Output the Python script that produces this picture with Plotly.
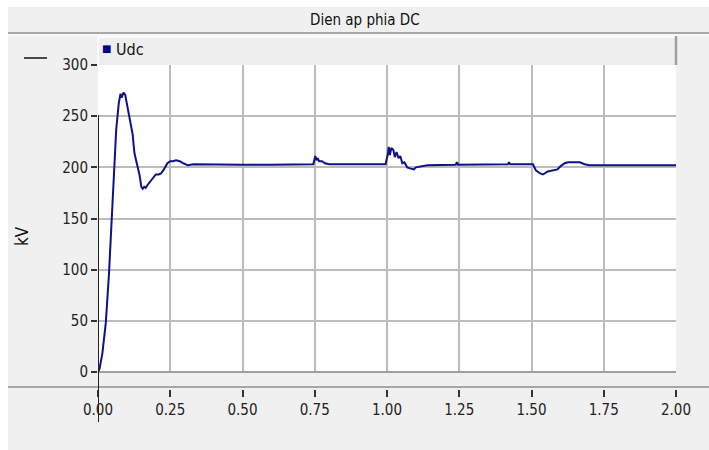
import plotly.graph_objects as go

# ---- data ----
t = [0.000, 0.005, 0.015, 0.027, 0.038, 0.047, 0.055, 0.063, 0.072, 0.078,
     0.082, 0.088, 0.094, 0.100, 0.105, 0.110, 0.115, 0.120, 0.126, 0.132,
     0.138, 0.144, 0.150, 0.155, 0.160, 0.165, 0.172, 0.180, 0.190, 0.200,
     0.210, 0.218, 0.228, 0.240, 0.250, 0.258, 0.270, 0.283, 0.295, 0.311,
     0.330, 0.400, 0.500, 0.600, 0.700, 0.745, 0.752, 0.756, 0.760, 0.765,
     0.775, 0.785, 0.800, 0.900, 0.995, 1.003, 1.006, 1.010, 1.015, 1.022,
     1.027, 1.033, 1.040, 1.046, 1.053, 1.060, 1.070, 1.080, 1.093, 1.100,
     1.120, 1.140, 1.238, 1.242, 1.246, 1.418, 1.422, 1.426, 1.505, 1.515,
     1.530, 1.540, 1.556, 1.570, 1.590, 1.600, 1.615, 1.626, 1.667, 1.684,
     1.700, 1.800, 1.900, 2.000]
udc = [0, 3, 18, 48, 96, 149, 200, 237, 263, 272,
       268, 273, 271, 262, 255, 247, 240, 232, 214, 207,
       201, 192, 181, 179, 181, 180, 183, 186, 190, 193,
       193, 194, 198, 204, 206, 206, 207, 206, 204, 202,
       203, 202.5, 202.5, 202.5, 202.5, 203, 211, 207, 209, 206,
       206, 204, 203, 203, 203, 213, 220, 212, 219, 217,
       210, 215, 209, 211, 204, 205, 200, 199, 198, 200,
       201, 202, 202.5, 205, 202.5, 203, 205, 203, 203, 197,
       194, 193, 196, 197, 198, 201, 204, 205, 205, 203,
       202, 202, 202, 202]
x_ticks = [0.0, 0.25, 0.5, 0.75, 1.0, 1.25, 1.5, 1.75, 2.0]
x_labels = ["0.00", "0.25", "0.50", "0.75", "1.00", "1.25", "1.50", "1.75", "2.00"]
y_ticks = [0, 50, 100, 150, 200, 250, 300]

TITLE = "Dien ap phia DC"
SERIES = "Udc"
YLABEL = "kV"

FONT = "Liberation Sans Narrow, Arial Narrow, DejaVu Sans Condensed, Arial, sans-serif"
W, H = 709, 450
L, R, T, B = 98, 676, 65, 389   # paper area in pixels
PLOT_BOTTOM = 372

def px(x):
    return (x - L) / (R - L)

def py(y):
    return (B - y) / (B - T)

fig = go.Figure()
fig.add_trace(go.Scatter(x=t, y=udc, mode="lines", name=SERIES,
                         line=dict(color="#10108a", width=2),
                         showlegend=False))

grid = "#bcbcbc"
fig.update_layout(
    width=W, height=H,
    margin=dict(l=L, r=W - R, t=T, b=H - B, pad=0),
    paper_bgcolor="#f0f0f0",
    plot_bgcolor="white",
    font=dict(family=FONT, size=15, color="#222"),
    xaxis=dict(range=[0, 2], tickvals=x_ticks, ticktext=x_labels,
               showgrid=True, gridcolor=grid, gridwidth=2,
               zeroline=False, showline=False,
               anchor="free", position=0,
               ticks="outside", ticklen=7, tickwidth=1.5, tickcolor="#333",
               tickfont=dict(family=FONT, size=15, color="#222")),
    yaxis=dict(range=[0, 300], tickvals=y_ticks, domain=[py(PLOT_BOTTOM), 1],
               showgrid=True, gridcolor=grid, gridwidth=2,
               zeroline=True, zerolinecolor="#a0a0a0", zerolinewidth=2,
               showline=False,
               ticks="outside", ticklen=6, tickwidth=1.5, tickcolor="#333",
               tickfont=dict(family=FONT, size=15, color="#222")),
    showlegend=False,
)

shapes = []
# white outer border (top/left)
shapes.append(dict(type="rect", xref="paper", yref="paper",
                   x0=px(0), x1=px(W), y0=py(0), y1=py(7),
                   fillcolor="white", line=dict(width=0), layer="above"))
shapes.append(dict(type="rect", xref="paper", yref="paper",
                   x0=px(0), x1=px(8), y0=py(0), y1=py(H),
                   fillcolor="white", line=dict(width=0), layer="above"))
# title separator
shapes.append(dict(type="line", xref="paper", yref="paper",
                   x0=px(8), x1=px(W), y0=py(33), y1=py(33),
                   line=dict(color="#a8a8a8", width=2)))
shapes.append(dict(type="line", xref="paper", yref="paper",
                   x0=px(8), x1=px(W), y0=py(35), y1=py(35),
                   line=dict(color="white", width=1)))
# legend bar
shapes.append(dict(type="rect", xref="paper", yref="paper",
                   x0=px(L), x1=px(R), y0=py(T), y1=py(37),
                   fillcolor="#eeeeee", line=dict(width=0)))
shapes.append(dict(type="line", xref="paper", yref="paper",
                   x0=px(L), x1=px(R), y0=py(37), y1=py(37),
                   line=dict(color="white", width=1.5)))
shapes.append(dict(type="line", xref="paper", yref="paper",
                   x0=px(L), x1=px(L), y0=py(37), y1=py(T),
                   line=dict(color="white", width=1.5)))
shapes.append(dict(type="line", xref="paper", yref="paper",
                   x0=px(R), x1=px(R), y0=py(36), y1=py(T),
                   line=dict(color="#a0a0a0", width=2.5)))
# bottom separator
shapes.append(dict(type="line", xref="paper", yref="paper",
                   x0=px(8), x1=px(W), y0=py(387), y1=py(387),
                   line=dict(color="#a8a8a8", width=2)))
# small dash marker at top-left
shapes.append(dict(type="line", xref="paper", yref="paper",
                   x0=px(24), x1=px(47), y0=py(58), y1=py(58),
                   line=dict(color="#111", width=1.5)))
# cursor line at t = 0
shapes.append(dict(type="line", xref="x", yref="paper",
                   x0=0, x1=0, y0=py(422), y1=py(115),
                   line=dict(color="#222", width=2)))
fig.update_layout(shapes=shapes)

annotations = [
    dict(text=TITLE, xref="paper", yref="paper", x=px(365), y=py(20),
         xanchor="center", yanchor="middle", showarrow=False,
         font=dict(family=FONT, size=15, color="#111")),
    dict(text="■", xref="paper", yref="paper", x=px(100), y=py(48),
         xanchor="left", yanchor="middle", showarrow=False,
         font=dict(family="DejaVu Sans", size=10, color="#000080")),
    dict(text=SERIES, xref="paper", yref="paper", x=px(114), y=py(49),
         xanchor="left", yanchor="middle", showarrow=False,
         font=dict(family=FONT, size=16, color="#111")),
    dict(text=YLABEL, xref="paper", yref="paper", x=px(22), y=py(236),
         xanchor="center", yanchor="middle", showarrow=False, textangle=-90,
         font=dict(family=FONT, size=17, color="#111")),
]
fig.update_layout(annotations=annotations)

fig.write_html("out.html")
